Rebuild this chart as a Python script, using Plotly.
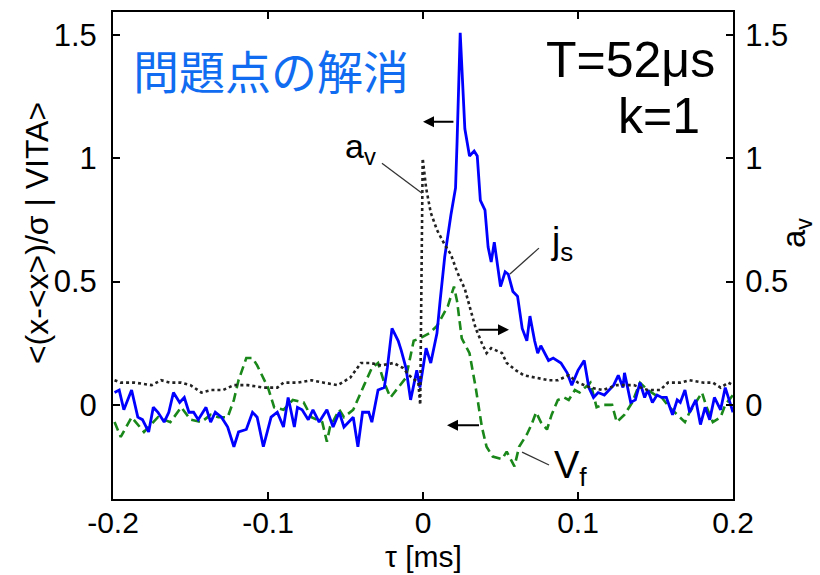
import plotly.graph_objects as go

# ---- data (tau in ms) ----
js_t = [-0.199, -0.196, -0.193, -0.188, -0.184, -0.181, -0.177, -0.174, -0.171, -0.167,
        -0.164, -0.161, -0.157, -0.154, -0.151, -0.148, -0.145, -0.140, -0.137, -0.134,
        -0.130, -0.126, -0.122, -0.119, -0.114, -0.110, -0.107, -0.103, -0.098, -0.094,
        -0.090, -0.087, -0.083, -0.081, -0.078, -0.074, -0.071, -0.067, -0.062, -0.058,
        -0.054, -0.051, -0.045, -0.042, -0.039, -0.035, -0.033, -0.029, -0.025, -0.023,
        -0.020, -0.016, -0.014, -0.011, -0.008, -0.004, -0.002, 0.002, 0.005, 0.009,
        0.011, 0.014, 0.018, 0.021, 0.022, 0.024, 0.027, 0.030, 0.033, 0.035,
        0.037, 0.040, 0.042, 0.044, 0.046, 0.050, 0.053, 0.055, 0.058, 0.061,
        0.064, 0.067, 0.069, 0.072, 0.074, 0.076, 0.081, 0.084, 0.089, 0.093,
        0.096, 0.100, 0.104, 0.107, 0.110, 0.113, 0.117, 0.123, 0.126, 0.129,
        0.130, 0.134, 0.137, 0.140, 0.143, 0.145, 0.148, 0.151, 0.154, 0.157,
        0.161, 0.164, 0.166, 0.169, 0.172, 0.176, 0.179, 0.182, 0.185, 0.188,
        0.192, 0.195, 0.198, 0.200]
js_v = [0.05, 0.06, -0.02, 0.06, -0.05, -0.06, -0.11, -0.01, -0.03, -0.07,
        -0.03, 0.05, 0.01, 0.03, -0.03, -0.03, -0.06, -0.01, -0.07, -0.03,
        -0.05, -0.09, -0.17, -0.11, -0.10, -0.03, -0.05, -0.17, -0.05, -0.03,
        -0.09, 0.03, -0.09, -0.01, -0.02, -0.06, -0.02, -0.07, -0.02, -0.09,
        -0.03, -0.09, -0.05, -0.17, -0.03, -0.03, -0.07, 0.06, 0.07, 0.15,
        0.31, 0.26, 0.22, 0.15, 0.02, 0.14, 0.07, 0.23, 0.17, 0.29,
        0.42, 0.60, 0.77, 0.88, 1.07, 1.51, 1.12, 1.01, 1.03, 1.01,
        0.83, 0.79, 0.64, 0.58, 0.66, 0.48, 0.54, 0.53, 0.46, 0.44,
        0.31, 0.26, 0.36, 0.26, 0.21, 0.24, 0.18, 0.19, 0.17, 0.13,
        0.08, 0.14, 0.18, 0.07, 0.03, 0.05, 0.04, 0.08, 0.12, 0.07,
        0.13, 0.01, 0.02, 0.09, 0.03, 0.06, 0.01, 0.04, 0.03, 0.03,
        -0.04, 0.02, 0.01, 0.06, -0.03, 0.02, -0.08, -0.01, -0.06, 0.03,
        -0.02, 0.07, 0.01, -0.03]

vf_t = [-0.199, -0.195, -0.188, -0.180, -0.174, -0.171, -0.163, -0.156, -0.150, -0.143,
        -0.137, -0.132, -0.126, -0.122, -0.119, -0.114, -0.110, -0.107, -0.100, -0.096,
        -0.090, -0.084, -0.077, -0.072, -0.065, -0.062, -0.060, -0.054, -0.051, -0.045,
        -0.038, -0.033, -0.029, -0.025, -0.021, -0.016, -0.011, -0.006, -0.002, 0.004,
        0.009, 0.016, 0.020, 0.022, 0.025, 0.030, 0.034, 0.038, 0.041, 0.045,
        0.051, 0.054, 0.059, 0.062, 0.067, 0.070, 0.073, 0.076, 0.080, 0.083,
        0.087, 0.091, 0.094, 0.098, 0.101, 0.108, 0.112, 0.116, 0.122, 0.125,
        0.130, 0.135, 0.140, 0.145, 0.150, 0.154, 0.159, 0.164, 0.169, 0.172,
        0.176, 0.180, 0.183, 0.187, 0.192, 0.195, 0.200]
vf_v = [-0.07, -0.13, -0.05, -0.11, -0.07, -0.05, -0.07, -0.01, -0.06, -0.07,
        -0.04, -0.05, -0.05, 0.02, 0.10, 0.19, 0.19, 0.16, 0.07, -0.01,
        -0.02, 0.02, 0.01, -0.05, -0.07, -0.15, -0.09, -0.02, -0.05, -0.02,
        0.08, 0.15, 0.17, 0.09, 0.03, 0.07, 0.11, 0.26, 0.27, 0.29,
        0.32, 0.40, 0.48, 0.42, 0.27, 0.21, 0.07, -0.09, -0.17, -0.21,
        -0.22, -0.19, -0.25, -0.17, -0.12, -0.08, -0.03, -0.07, -0.10, -0.04,
        0.02, 0.03, 0.02, 0.06, 0.05, 0.09, -0.01, 0.00, 0.00, -0.07,
        -0.04, 0.01, 0.09, 0.06, 0.04, 0.03, -0.01, -0.04, -0.07, -0.03,
        0.01, 0.05, -0.01, -0.07, -0.05, 0.00, 0.04]

av_t = [-0.199, -0.195, -0.186, -0.175, -0.169, -0.163, -0.156, -0.150, -0.143, -0.137,
        -0.129, -0.122, -0.113, -0.103, -0.094, -0.090, -0.081, -0.072, -0.064, -0.055,
        -0.047, -0.040, -0.034, -0.027, -0.019, -0.013, -0.009, -0.005, -0.0030, -0.0018,
        -0.0002, 0.002, 0.005, 0.009, 0.014, 0.018, 0.022, 0.027, 0.031, 0.034,
        0.038, 0.041, 0.044, 0.047, 0.051, 0.054, 0.060, 0.065, 0.072, 0.081,
        0.087, 0.094, 0.100, 0.108, 0.116, 0.125, 0.136, 0.145, 0.153, 0.158,
        0.166, 0.172, 0.181, 0.187, 0.192, 0.197, 0.200]
av_v = [0.10, 0.09, 0.09, 0.08, 0.10, 0.09, 0.09, 0.08, 0.05, 0.06,
        0.06, 0.08, 0.08, 0.07, 0.07, 0.09, 0.09, 0.10, 0.09, 0.08,
        0.11, 0.17, 0.17, 0.16, 0.17, 0.15, 0.12, 0.10, 0.09, 0.00,
        1.00, 0.88, 0.78, 0.71, 0.65, 0.61, 0.54, 0.47, 0.38, 0.31,
        0.25, 0.21, 0.23, 0.22, 0.21, 0.17, 0.14, 0.12, 0.11, 0.10,
        0.10, 0.12, 0.09, 0.07, 0.06, 0.08, 0.08, 0.06, 0.06, 0.09,
        0.09, 0.10, 0.09, 0.09, 0.07, 0.09, 0.08]

x_ticks = [-0.2, -0.1, 0, 0.1, 0.2]
x_ticktext = ["-0.2", "-0.1", "0", "0.1", "0.2"]
y_ticks = [0, 0.5, 1, 1.5]
y_ticktext = ["0", "0.5", "1", "1.5"]

FONT = "Liberation Sans, Arial, Helvetica, sans-serif"

fig = go.Figure()
fig.add_trace(go.Scatter(x=av_t, y=av_v, mode="lines", yaxis="y2",
                         line=dict(color="#222222", width=2.6, dash="dot")))
fig.add_trace(go.Scatter(x=vf_t, y=vf_v, mode="lines",
                         line=dict(color="rgb(25,135,25)", width=2.6, dash="9px,5px")))
fig.add_trace(go.Scatter(x=js_t, y=js_v, mode="lines",
                         line=dict(color="#0000ff", width=2.8)))

yr = [-0.382, 1.594]
fig.update_layout(
    width=820, height=575,
    margin=dict(l=113, r=87, t=10, b=76),
    plot_bgcolor="white", paper_bgcolor="white",
    showlegend=False,
    font=dict(family=FONT, color="black"),
    xaxis=dict(range=[-0.2, 0.2], tickvals=x_ticks, ticktext=x_ticktext,
               ticks="inside", ticklen=7, tickwidth=1.5, tickcolor="black",
               showline=True, linecolor="black", linewidth=2, mirror="ticks",
               showgrid=False, zeroline=False, tickfont=dict(size=30),
               ticklabelstandoff=-4),
    yaxis=dict(range=yr, tickvals=y_ticks, ticktext=y_ticktext,
               ticks="inside", ticklen=7, tickwidth=1.5, tickcolor="black",
               showline=True, linecolor="black", linewidth=2, mirror=True,
               showgrid=False, zeroline=False, tickfont=dict(size=31),
               ticklabelstandoff=8),
    yaxis2=dict(range=yr, tickvals=y_ticks, ticktext=y_ticktext, overlaying="y",
                side="right", ticks="inside", ticklen=7, tickwidth=1.5, tickcolor="black",
                showline=True, linecolor="black", linewidth=2,
                showgrid=False, zeroline=False, tickfont=dict(size=31),
                ticklabelstandoff=4),
)

def px_x(px):
    return (px - 113) / 620.0

def px_y(py):
    return (499 - py) / 489.0

ann = []
# axis titles
ann.append(dict(text="τ [ms]", xref="paper", yref="paper", x=px_x(423), y=px_y(557),
                xanchor="center", yanchor="middle", showarrow=False, font=dict(size=30)))
ann.append(dict(text="<(x-<x>)/σ | VITA>", xref="paper", yref="paper", x=px_x(37), y=px_y(232),
                xanchor="center", yanchor="middle", showarrow=False, textangle=-90,
                font=dict(size=32)))
ann.append(dict(text="a<sub>v</sub>", xref="paper", yref="paper", x=px_x(796), y=px_y(232),
                xanchor="center", yanchor="middle", showarrow=False, textangle=-90,
                font=dict(size=33)))
# title texts
ann.append(dict(text="問題点の解消", xref="paper", yref="paper", x=px_x(131), y=px_y(67),
                xanchor="left", yanchor="middle", showarrow=False,
                font=dict(size=46, color="rgb(16,108,240)", family="Noto Sans CJK JP")))
ann.append(dict(text="T=52μs", xref="paper", yref="paper", x=px_x(717), y=px_y(58),
                xanchor="right", yanchor="middle", showarrow=False, font=dict(size=50)))
ann.append(dict(text="k=1", xref="paper", yref="paper", x=px_x(702), y=px_y(114),
                xanchor="right", yanchor="middle", showarrow=False, font=dict(size=50)))
# series labels
ann.append(dict(text="a<sub>v</sub>", xref="paper", yref="paper", x=px_x(360), y=px_y(147),
                xanchor="center", yanchor="middle", showarrow=False, font=dict(size=34)))
ann.append(dict(text="j<sub>s</sub>", xref="paper", yref="paper", x=px_x(562), y=px_y(242),
                xanchor="center", yanchor="middle", showarrow=False, font=dict(size=37)))
ann.append(dict(text="V<sub>f</sub>", xref="paper", yref="paper", x=px_x(570), y=px_y(468),
                xanchor="center", yanchor="middle", showarrow=False, font=dict(size=38)))

# arrows (head at x,y; tail at ax,ay in data units)
arrows = [((0.0, 1.149), (0.0206, 1.149)),
          ((0.0555, 0.305), (0.0348, 0.305)),
          ((0.0155, -0.083), (0.0371, -0.083))]
for (hx, hy), (tx, ty) in arrows:
    ann.append(dict(x=hx, y=hy, ax=tx, ay=ty, xref="x", yref="y", axref="x", ayref="y",
                    text="", showarrow=True, arrowhead=2, arrowsize=1.1, arrowwidth=2,
                    arrowcolor="black"))
fig.update_layout(annotations=ann)

# leader lines
leaders = [((-0.0265, 0.98), (-0.0006, 0.859)),
           ((0.0748, 0.636), (0.0561, 0.531)),
           ((0.0813, -0.244), (0.0639, -0.192))]
for (x0, y0), (x1, y1) in leaders:
    fig.add_shape(type="line", xref="x", yref="y", x0=x0, y0=y0, x1=x1, y1=y1,
                  line=dict(color="#333333", width=1.3))

fig.write_html("out.html")
